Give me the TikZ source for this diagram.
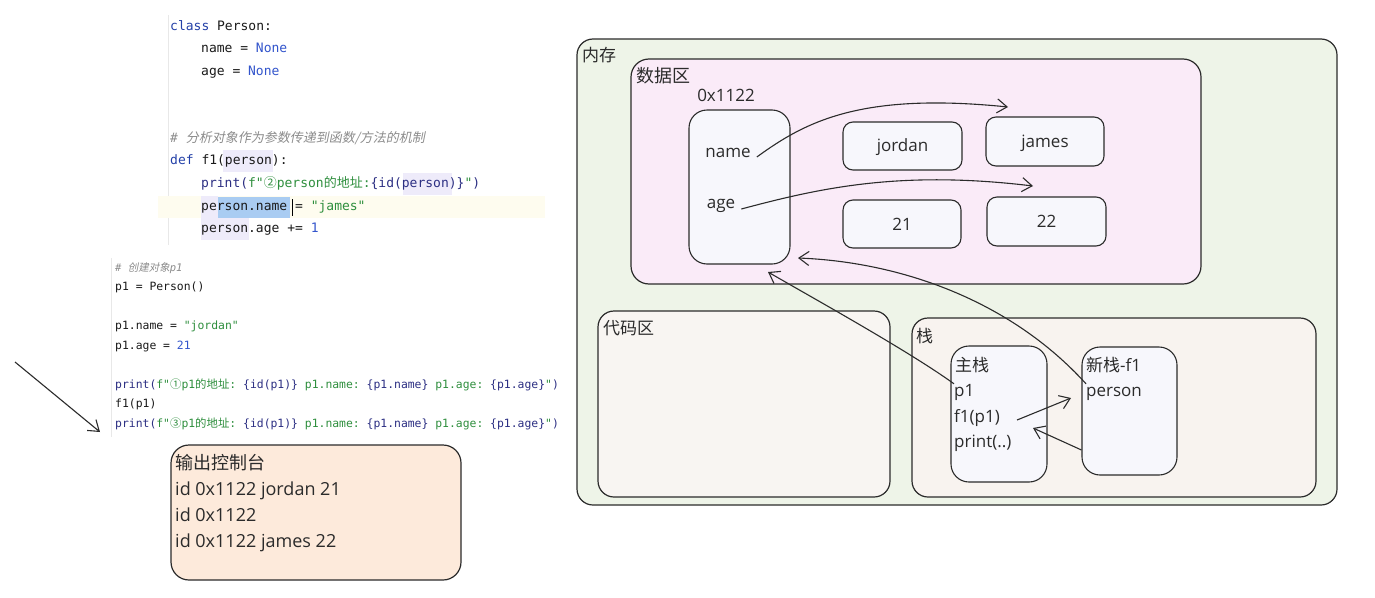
\documentclass[tikz,border=0pt]{standalone}
\usepackage{fontspec}
\setmainfont{Open Sans}
\setmonofont{DejaVu Sans Mono}
\newfontfamily\cjk{Noto Sans CJK SC}
\newfontfamily\cjkit{Noto Sans CJK SC}[FakeSlant=0.2]
\newfontfamily\hand{Open Sans}
\usetikzlibrary{arrows.meta,calc}
\definecolor{ink}{HTML}{2B2B2B}
\definecolor{memg}{HTML}{EEF4E8}
\definecolor{datap}{HTML}{FAEBF8}
\definecolor{codea}{HTML}{F8F5F2}
\definecolor{stacka}{HTML}{F8F3EF}
\definecolor{boxf}{HTML}{F7F7FC}
\definecolor{consf}{HTML}{FDEADB}
\definecolor{kwc}{HTML}{2340A8}
\definecolor{nonec}{HTML}{3355CC}
\definecolor{fnc}{HTML}{2C2F83}
\definecolor{strc}{HTML}{2F8F3E}
\definecolor{cmtc}{HTML}{8C8C8C}
\definecolor{txtc}{HTML}{1A1A1A}
\definecolor{bandc}{HTML}{FEFCEF}
\definecolor{selc}{HTML}{A9CCF2}
\definecolor{lavc}{HTML}{EEEBFA}
\definecolor{guidec}{HTML}{E8E8E8}
\newcommand\cKw[1]{\textcolor{kwc}{#1}}
\newcommand\cNone[1]{\textcolor{nonec}{#1}}
\newcommand\cFn[1]{\textcolor{fnc}{#1}}
\newcommand\cStr[1]{\textcolor{strc}{#1}}
\begin{document}
\begin{tikzpicture}[x=1pt,y=-1pt,
  codeT/.style={anchor=west, inner sep=0pt, text=txtc, font=\ttfamily\fontsize{13}{15}\selectfont, text height=9pt, text depth=3pt},
  cmtT/.style={anchor=west, inner sep=0pt, text=cmtc, font=\ttfamily\itshape\fontsize{13}{15}\selectfont, text height=9pt, text depth=3pt},
  codeL/.style={anchor=west, inner sep=0pt, text=txtc, font=\ttfamily\fontsize{11.4}{13}\selectfont, text height=8pt, text depth=2.6pt},
  cmtL/.style={anchor=west, inner sep=0pt, text=cmtc, font=\ttfamily\itshape\fontsize{10.5}{12}\selectfont, text height=7pt, text depth=2.3pt},
  area/.style={draw=ink, line width=1.2pt, rounded corners=16pt, inner sep=0pt},
  vbox/.style={draw=ink, line width=1.1pt, fill=boxf, rounded corners=10pt, inner sep=0pt},
  hw/.style={inner sep=0pt, text=ink, font=\hand\fontsize{17}{20}\selectfont, text height=12pt, text depth=4pt},
  hwl/.style={hw, anchor=west},
  lab/.style={anchor=west, inner sep=0pt, text=ink, font=\cjk\fontsize{17}{20}\selectfont, text height=12pt, text depth=4pt},
  arr/.style={draw=ink, line width=1.1pt, -{Straight Barb[length=10pt,width=14pt,line width=1.1pt]}}
]
\useasboundingbox (0,0) rectangle (1375,597);
\fill[white] (0,0) rectangle (1375,597);

% ---------- code editor ----------
\draw[guidec, line width=0.8pt] (168,15) -- (168,245);
\draw[guidec, line width=0.8pt] (111,258) -- (111,437);
\fill[bandc] (158,196) rectangle (545,218);
\fill[lavc] (223,150) rectangle (273,172);
\fill[lavc] (403,173) rectangle (452,195);
\fill[lavc] (201,196) rectangle (218,218);
\fill[lavc] (201,218) rectangle (249,240);
\fill[selc] (218,197) rectangle (290,218);

\node[codeT] (c1) at (170,27) {\cKw{class} Person:};
\node[codeT] (c2) at (201,49) {name = \cNone{None}};
\node[codeT] (c3) at (201,72) {age = \cNone{None}};
\node[cmtT] (c4) at (170,139) {\# {\cjkit 分析对象作为参数传递到函数/方法的机制}};
\node[codeT] (c5) at (170,161) {\cKw{def} f1(person):};
\node[codeT] (c6) at (201,184) {\cFn{print(}\cStr{f"{\cjk ②}person{\cjk 的地址}:}\cFn{\{id(person)\}}\cStr{"}\cFn{)}};
\node[codeT] (c7) at (201,207) {person.name = \cStr{"james"}};
\draw[black, line width=1pt] (292,199) -- (292,216);
\node[codeT] (c8) at (201,229) {person.age += \cNone{1}};

\node[cmtL] (d1) at (115,269) {\# {\cjkit 创建对象}p1};
\node[codeL] (d2) at (115,288) {p1 = Person()};
\node[codeL] (d3) at (115,327) {p1.name = \cStr{"jordan"}};
\node[codeL] (d4) at (115,347) {p1.age = \cNone{21}};
\node[codeL] (d5) at (115,386) {\cFn{print(}\cStr{f"{\cjk ①}p1{\cjk 的地址}:\ }\cFn{\{id(p1)\}}\cStr{\ p1.name:\ }\cFn{\{p1.name\}}\cStr{\ p1.age:\ }\cFn{\{p1.age\}}\cStr{"}\cFn{)}};
\node[codeL] (d6) at (115,405) {f1(p1)};
\node[codeL] (d7) at (115,425) {\cFn{print(}\cStr{f"{\cjk ③}p1{\cjk 的地址}:\ }\cFn{\{id(p1)\}}\cStr{\ p1.name:\ }\cFn{\{p1.name\}}\cStr{\ p1.age:\ }\cFn{\{p1.age\}}\cStr{"}\cFn{)}};

% pointer arrow on the left
\coordinate (la1) at (15,362);
\coordinate (la2) at (100,432);
\draw[arr] (la1) -- (la2);

% ---------- console ----------
\node[area, fill=consf, rounded corners=18pt, minimum width=290pt, minimum height=135pt] (console) at (316,512.5) {};
\node[lab, font=\cjk\fontsize{18}{20}\selectfont] (o0) at (175,465) {输出控制台};
\node[hwl, font=\hand\fontsize{18}{20}\selectfont] (o1) at (175,491) {id 0x1122 jordan 21};
\node[hwl, font=\hand\fontsize{18}{20}\selectfont] (o2) at (175,517) {id 0x1122};
\node[hwl, font=\hand\fontsize{18}{20}\selectfont] (o3) at (175,543) {id 0x1122 james 22};

% ---------- memory ----------
\node[area, fill=memg, minimum width=760pt, minimum height=466pt] (mem) at (957,272) {};
\node[lab] (l-mem) at (582,57) {内存};
\node[area, fill=datap, rounded corners=18pt, minimum width=570pt, minimum height=225pt] (data) at (916,171.5) {};
\node[lab, font=\cjk\fontsize{18}{20}\selectfont] (l-data) at (636,78) {数据区};
\node[area, fill=codea, minimum width=292pt, minimum height=186pt] (codearea) at (744,404) {};
\node[lab] (l-code) at (603,330) {代码区};
\node[area, fill=stacka, minimum width=404pt, minimum height=179pt] (stack) at (1114,407.5) {};
\node[lab] (l-stack) at (916,338) {栈};

% object
\node[hw] (addr) at (726,97) {0x1122};
\node[vbox, rounded corners=18pt, minimum width=101pt, minimum height=154pt] (obj) at (739.5,187) {};
\node[hw] (t-name) at (728,153) {name};
\node[hw] (t-age) at (721,204) {age};

\node[vbox, minimum width=119pt, minimum height=48pt] (jordan) at (902.5,146) {};
\node[hw] (t-jordan) at (902.5,147) {jordan};
\node[vbox, minimum width=118pt, minimum height=49pt] (james) at (1045,141.5) {};
\node[hw] (t-james) at (1045,143) {james};
\node[vbox, minimum width=118pt, minimum height=48pt] (b21) at (902,224) {};
\node[hw] (t-21) at (902,226) {21};
\node[vbox, minimum width=119pt, minimum height=49pt] (b22) at (1046.5,221.5) {};
\node[hw] (t-22) at (1046.5,223) {22};

% stacks
\node[vbox, rounded corners=18pt, minimum width=96pt, minimum height=136pt] (mainst) at (999,414) {};
\node[lab] (t-main) at (955,367) {主栈};
\node[hwl] (t-p1) at (954,392) {p1};
\node[hwl] (t-f1) at (954,418) {f1(p1)};
\node[hwl] (t-print) at (954,443) {print(..)};
\node[vbox, rounded corners=18pt, minimum width=95pt, minimum height=128pt] (newst) at (1129.5,411) {};
\node[lab] (t-new) at (1086,367) {新栈\hand -f1};
\node[hwl] (t-person) at (1086,392) {person};

% ---------- connectors ----------
\coordinate (aJames) at (1008,107);
\coordinate (a22) at (1033,186);
\coordinate (aObj1) at (768,272);
\coordinate (aObj2) at (798,258);
\coordinate (aNew) at (1071,398);
\coordinate (aPrint) at (1033,428);

\draw[arr] ($(t-name.east)+(6,4)$) .. controls (805,122) and (860,92) .. (aJames);
\draw[arr] ($(t-age.east)+(6,5)$) .. controls (820,188) and (900,170) .. (a22);
\draw[arr] (t-p1.north west) .. controls (910,352) and (820,302) .. (aObj1);
\draw[arr] (t-person.north west) .. controls (1010,300) and (900,262) .. (aObj2);
\draw[arr] ($(t-f1.east)+(17,2)$) -- (aNew);
\draw[arr] ($(newst.west)+(0,39)$) -- (aPrint);
\end{tikzpicture}
\end{document}
